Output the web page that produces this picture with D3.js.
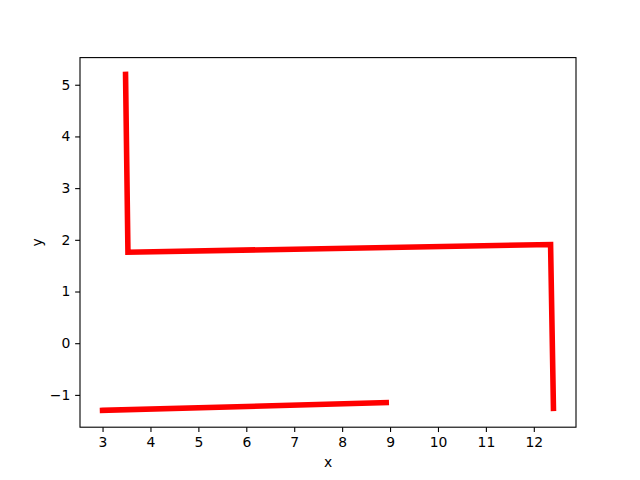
<!DOCTYPE html>
<html>
<head>
<meta charset="utf-8">
<script src="https://cdn.jsdelivr.net/npm/d3@7"></script>
<style>
  body { margin: 0; background: #fff; }
  text { font-family: "DejaVu Sans", sans-serif; }
</style>
</head>
<body>
<div id="chart"></div>
<script>
// two separate red polylines
var lineA_x = [3.48, 3.53, 12.35, 12.41],
    lineA_y = [5.20, 1.76, 1.91, -1.26];
var lineB_x = [3.00, 8.92],
    lineB_y = [-1.30, -1.15];
var xTicks = [3, 4, 5, 6, 7, 8, 9, 10, 11, 12],
    yTicks = [-1, 0, 1, 2, 3, 4, 5];

var width = 640, height = 480,
    margin = {left: 80, right: 64, top: 57.6, bottom: 52.8};

var lines = [d3.zip(lineA_x, lineA_y), d3.zip(lineB_x, lineB_y)];
var allX = lineA_x.concat(lineB_x), allY = lineA_y.concat(lineB_y);

function padded(ext) {
    var r = ext[1] - ext[0];
    return [ext[0] - 0.05 * r, ext[1] + 0.05 * r];
}

var x = d3.scaleLinear().domain(padded(d3.extent(allX))).range([margin.left, width - margin.right]),
    y = d3.scaleLinear().domain(padded(d3.extent(allY))).range([height - margin.bottom, margin.top]);

var svg = d3.select("#chart").append("svg")
    .attr("width", width)
    .attr("height", height);

var line = d3.line().x(d => x(d[0])).y(d => y(d[1]));

svg.selectAll("path.data")
    .data(lines)
    .enter().append("path")
    .attr("class", "data")
    .attr("d", line)
    .attr("fill", "none")
    .attr("stroke", "#ff0000")
    .attr("stroke-width", 5.56)
    .attr("stroke-linecap", "square")
    .attr("stroke-linejoin", "miter");

var fmt = d => d < 0 ? "\u2212" + Math.abs(d) : String(d);

var xAxis = svg.append("g")
    .attr("transform", `translate(0,${height - margin.bottom})`)
    .call(d3.axisBottom(x).tickValues(xTicks).tickFormat(fmt).tickSize(4.86).tickPadding(4.9));
var yAxis = svg.append("g")
    .attr("transform", `translate(${margin.left},0)`)
    .call(d3.axisLeft(y).tickValues(yTicks).tickFormat(fmt).tickSize(4.86).tickPadding(4.9));

[xAxis, yAxis].forEach(function(g) {
    g.select(".domain").remove();
    g.selectAll(".tick line").attr("stroke", "#000").attr("stroke-width", 1.1);
    g.selectAll(".tick text").attr("fill", "#000").style("font-size", "13.9px")
        .style("font-family", "'DejaVu Sans', sans-serif");
});

// frame
svg.append("rect")
    .attr("x", margin.left)
    .attr("y", margin.top)
    .attr("width", width - margin.left - margin.right)
    .attr("height", height - margin.top - margin.bottom)
    .attr("fill", "none")
    .attr("stroke", "#000")
    .attr("stroke-width", 1.1);

svg.append("text")
    .attr("x", margin.left + (width - margin.left - margin.right) / 2)
    .attr("y", 467)
    .attr("text-anchor", "middle")
    .style("font-size", "13.9px")
    .text("x");

svg.append("text")
    .attr("transform", `translate(42,${margin.top + (height - margin.top - margin.bottom) / 2}) rotate(-90)`)
    .attr("text-anchor", "middle")
    .style("font-size", "13.9px")
    .text("y");
</script>
</body>
</html>
